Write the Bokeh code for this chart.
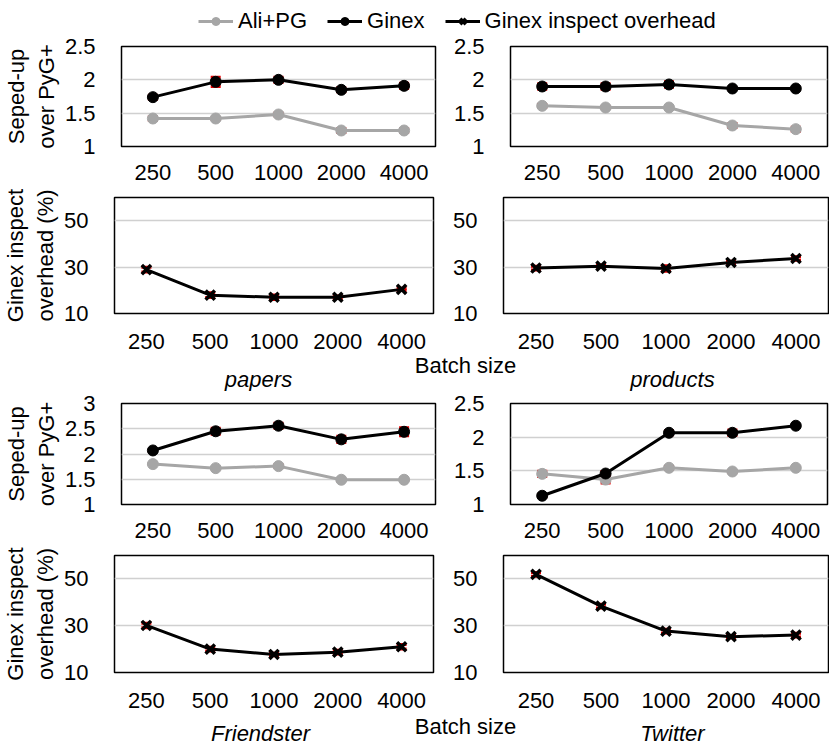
from bokeh.plotting import figure
from bokeh.models import (FactorRange, Range1d, FixedTicker, NumeralTickFormatter,
                          Whisker, ColumnDataSource, TeeHead, Legend, LegendItem, Label)
from bokeh.layouts import column, row
from bokeh.embed import file_html
from bokeh.resources import INLINE

# ---------------- data ----------------
batch_sizes = ["250", "500", "1000", "2000", "4000"]

papers_ali = [1.42, 1.42, 1.48, 1.24, 1.24]
papers_ali_err = [0.03, 0.01, 0.02, 0.03, 0.03]
papers_ginex = [1.74, 1.97, 2.00, 1.85, 1.91]
papers_ginex_err = [0.03, 0.07, 0.04, 0.03, 0.04]

products_ali = [1.61, 1.585, 1.585, 1.315, 1.26]
products_ali_err = [0.02, 0.01, 0.01, 0.03, 0.03]
products_ginex = [1.90, 1.90, 1.93, 1.87, 1.87]
products_ginex_err = [0.04, 0.04, 0.04, 0.01, 0.01]

papers_ovh = [28.9, 17.9, 17.0, 17.0, 20.4]
papers_ovh_err = [1.0, 1.0, 1.0, 0.5, 0.5]
products_ovh = [29.6, 30.4, 29.4, 32.0, 33.7]
products_ovh_err = [0.8, 0.5, 1.2, 0.5, 0.8]

friendster_ali = [1.80, 1.72, 1.76, 1.49, 1.49]
friendster_ali_err = [0.01, 0.01, 0.02, 0.01, 0.01]
friendster_ginex = [2.07, 2.45, 2.56, 2.29, 2.44]
friendster_ginex_err = [0.02, 0.06, 0.05, 0.06, 0.08]

twitter_ali = [1.455, 1.37, 1.545, 1.49, 1.545]
twitter_ali_err = [0.04, 0.05, 0.02, 0.01, 0.01]
twitter_ginex = [1.13, 1.46, 2.065, 2.065, 2.17]
twitter_ginex_err = [0.02, 0.03, 0.03, 0.04, 0.01]

friendster_ovh = [30.1, 20.0, 17.7, 18.7, 21.0]
friendster_ovh_err = [1.0, 0.8, 0.5, 0.8, 1.0]
twitter_ovh = [51.9, 38.4, 27.7, 25.3, 26.0]
twitter_ovh_err = [0.8, 0.8, 0.8, 0.5, 0.8]

speed_ticks_25 = [1, 1.5, 2, 2.5]
speed_ticks_3 = [1, 1.5, 2, 2.5, 3]
ovh_ticks = [10, 30, 50]

speed_label = "Seped-up\nover PyG+"
ovh_label = "Ginex inspect\noverhead (%)"

# ---------------- style ----------------
FONT = "Liberation Sans"
FS = "22px"
GRAY = "#A6A6A6"
RED = "#E00000"
GRID = "#D0D0D0"


def base_fig(width, height, bl, br, bt, bb, y_start, y_end, yticks, xstandoff, ylabel):
    p = figure(width=width, height=height,
               x_range=FactorRange(factors=batch_sizes, range_padding=0),
               y_range=Range1d(y_start, y_end),
               output_backend="svg", toolbar_location=None,
               min_border_left=bl, min_border_right=br,
               min_border_top=bt, min_border_bottom=bb)
    p.outline_line_color = "black"
    p.outline_line_width = 1.5
    p.background_fill_color = "white"
    p.border_fill_color = "white"
    p.xgrid.visible = False
    p.ygrid.ticker = FixedTicker(ticks=yticks)
    p.ygrid.grid_line_color = GRID
    p.ygrid.grid_line_width = 1.5
    p.yaxis.ticker = FixedTicker(ticks=yticks)
    p.yaxis.formatter = NumeralTickFormatter(format="0.[0]")
    for ax in (p.xaxis[0], p.yaxis[0]):
        ax.axis_line_color = None
        ax.major_tick_line_color = None
        ax.minor_tick_line_color = None
        ax.major_label_text_font = FONT
        ax.major_label_text_font_size = FS
        ax.major_label_text_color = "black"
    p.xaxis.major_label_standoff = xstandoff
    p.yaxis.major_label_standoff = 20
    if ylabel:
        p.yaxis.axis_label = ylabel
        p.yaxis.axis_label_text_font = FONT
        p.yaxis.axis_label_text_font_size = FS
        p.yaxis.axis_label_text_font_style = "normal"
        p.yaxis.axis_label_text_color = "black"
        p.yaxis.axis_label_standoff = 3
    return p


def add_err(p, vals, errs):
    src = ColumnDataSource(dict(x=batch_sizes,
                                upper=[v + e for v, e in zip(vals, errs)],
                                lower=[v - e for v, e in zip(vals, errs)]))
    w = Whisker(source=src, base="x", upper="upper", lower="lower",
                line_color=RED, line_width=2,
                upper_head=TeeHead(size=10, line_color=RED, line_width=3),
                lower_head=TeeHead(size=10, line_color=RED, line_width=3))
    p.add_layout(w)


def speed_panel(width, bl, br, bt, fh, ali, ali_err, ginex, ginex_err, y_end, yticks, ylabel):
    p = base_fig(width, bt + fh + 41, bl, br, bt, 41, 1, y_end, yticks, 12, ylabel)
    add_err(p, ali, ali_err)
    add_err(p, ginex, ginex_err)
    p.line(batch_sizes, ali, line_color=GRAY, line_width=3)
    p.scatter(batch_sizes, ali, marker="circle", size=11, color=GRAY)
    p.line(batch_sizes, ginex, line_color="black", line_width=3)
    p.scatter(batch_sizes, ginex, marker="circle", size=11, color="black")
    return p


def ovh_panel(width, bl, br, fh, bb, vals, errs, ylabel):
    p = base_fig(width, 10 + fh + bb, bl, br, 10, bb, 10, 60, ovh_ticks, 14, ylabel)
    add_err(p, vals, errs)
    p.line(batch_sizes, vals, line_color="black", line_width=3)
    p.scatter(batch_sizes, vals, marker="x", size=13, line_color="black", line_width=3.5)
    return p


def blank_fig(width, height):
    p = figure(width=width, height=height, x_range=Range1d(0, width), y_range=Range1d(0, height),
               output_backend="svg", toolbar_location=None, min_border=0,
               x_axis_type=None, y_axis_type=None)
    p.grid.visible = False
    p.outline_line_color = None
    p.background_fill_color = "white"
    p.border_fill_color = "white"
    return p


def cap_label(p, x, y, text, italic=False):
    p.add_layout(Label(x=x, y=y, text=text, text_font=FONT, text_font_size=FS,
                       text_font_style="italic" if italic else "normal",
                       text_color="black", text_align="center", text_baseline="middle"))


LW, RW = 450, 379
TOTAL_W = LW + RW

# ---------------- legend ----------------
lf = blank_fig(TOTAL_W, 34)
hx, hy = [-100], [-100]
r1l = lf.line(hx, hy, line_color=GRAY, line_width=3)
r1m = lf.scatter(hx, hy, marker="circle", size=11, color=GRAY)
r2l = lf.line(hx, hy, line_color="black", line_width=3)
r2m = lf.scatter(hx, hy, marker="circle", size=11, color="black")
r3l = lf.line(hx, hy, line_color="black", line_width=3)
r3m = lf.scatter(hx, hy, marker="x", size=13, line_color="black", line_width=3.5)
legend = Legend(items=[LegendItem(label="Ali+PG", renderers=[r1l, r1m]),
                       LegendItem(label="Ginex", renderers=[r2l, r2m]),
                       LegendItem(label="Ginex inspect overhead", renderers=[r3l, r3m])],
                orientation="horizontal", location=(198, 0),
                label_text_font=FONT, label_text_font_size=FS, label_text_color="black",
                glyph_width=35, glyph_height=20, label_standoff=5, spacing=20,
                padding=0, margin=0, border_line_color=None, background_fill_alpha=0)
lf.add_layout(legend)

# ---------------- panels ----------------
p1 = speed_panel(LW, 110, 15, 12, 100, papers_ali, papers_ali_err, papers_ginex,
                 papers_ginex_err, 2.5, speed_ticks_25, speed_label)
p2 = speed_panel(RW, 52, 2, 12, 100, products_ali, products_ali_err, products_ginex,
                 products_ginex_err, 2.5, speed_ticks_25, None)
p3 = ovh_panel(LW, 102, 17, 116, 39, papers_ovh, papers_ovh_err, ovh_label)
p4 = ovh_panel(RW, 43, 1, 116, 39, products_ovh, products_ovh_err, None)

c1 = blank_fig(TOTAL_W, 39)
cap_label(c1, 465, 26, "Batch size")
cap_label(c1, 258, 12.5, "papers", italic=True)
cap_label(c1, 672, 12.5, "products", italic=True)

p5 = speed_panel(LW, 110, 15, 12, 101, friendster_ali, friendster_ali_err, friendster_ginex,
                 friendster_ginex_err, 3, speed_ticks_3, speed_label)
p6 = speed_panel(RW, 52, 2, 12, 101, twitter_ali, twitter_ali_err, twitter_ginex,
                 twitter_ginex_err, 2.5, speed_ticks_25, None)
p7 = ovh_panel(LW, 102, 17, 117, 41, friendster_ovh, friendster_ovh_err, ovh_label)
p8 = ovh_panel(RW, 43, 1, 117, 41, twitter_ovh, twitter_ovh_err, None)

c2 = blank_fig(TOTAL_W, 33)
cap_label(c2, 465, 20, "Batch size")
cap_label(c2, 260, 13, "Friendster", italic=True)
cap_label(c2, 672, 13, "Twitter", italic=True)

layout = column(lf, row(p1, p2), row(p3, p4), c1, row(p5, p6), row(p7, p8), c2)

open("out.html", "w").write(file_html(layout, INLINE))
